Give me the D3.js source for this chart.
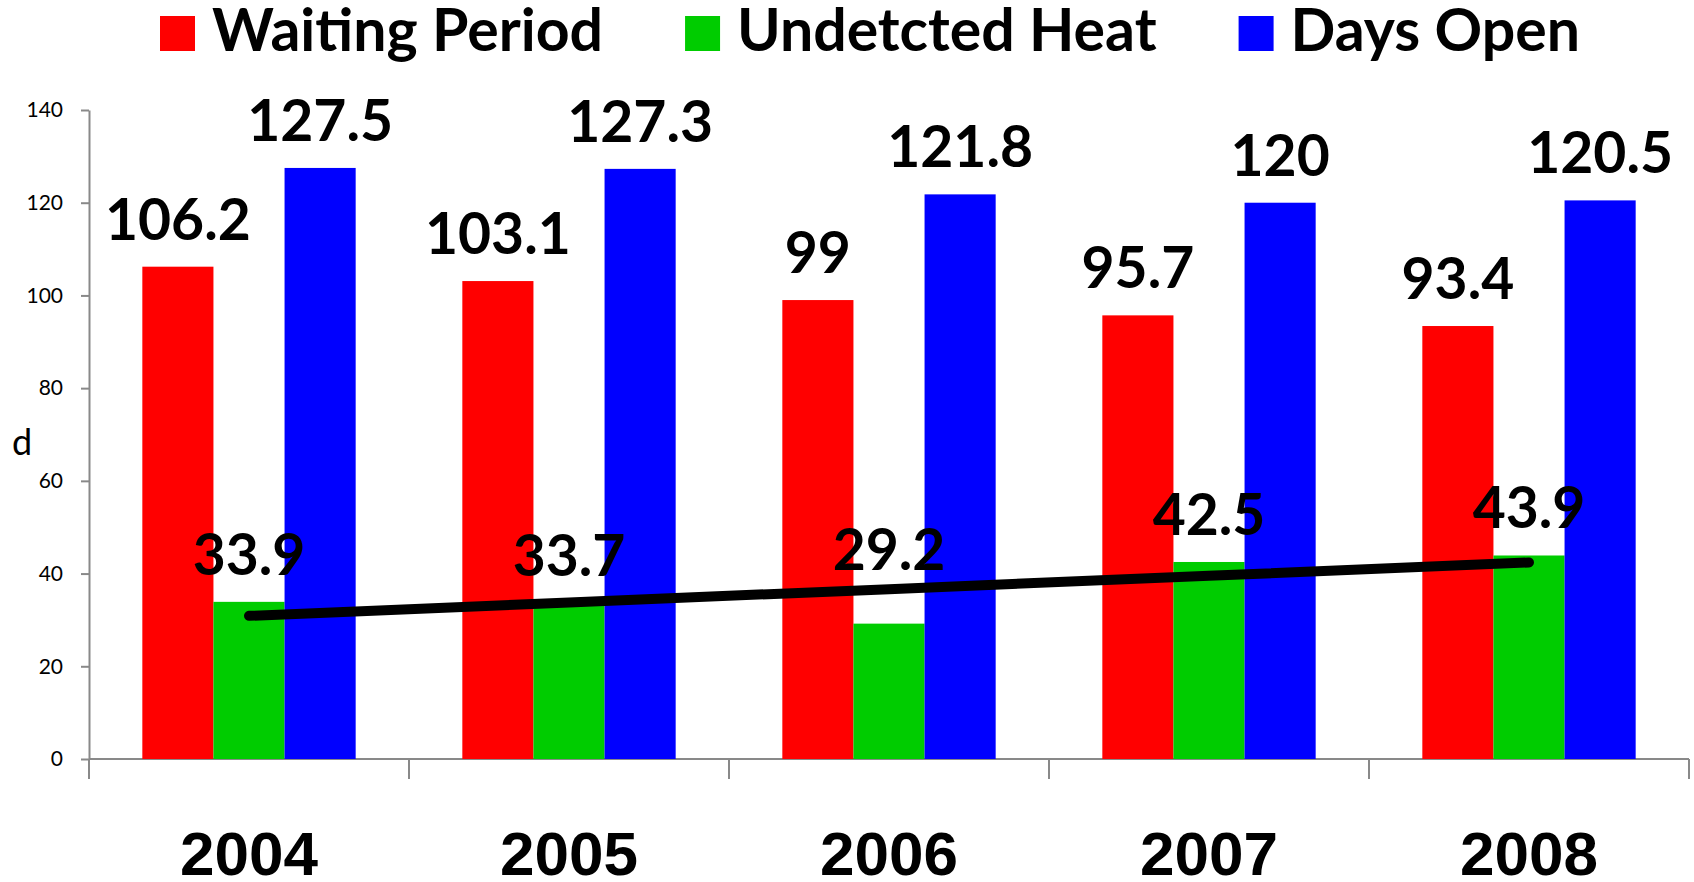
<!DOCTYPE html>
<html>
<head>
<meta charset="utf-8">
<script src="https://cdn.jsdelivr.net/npm/d3@7"></script>
<style>
  body { margin: 0; background: #fff; }
  svg { display: block; }
</style>
</head>
<body>
<div id="chart"></div>
<script>
// data
const years = ["2004", "2005", "2006", "2007", "2008"];
const seriesNames = ["Waiting Period", "Undetcted Heat", "Days Open"];
const seriesColors = ["#ff0000", "#00cc00", "#0000ff"];
const waitingPeriod = [106.2, 103.1, 99, 95.7, 93.4];
const undetectedHeat = [33.9, 33.7, 29.2, 42.5, 43.9];
const daysOpen = [127.5, 127.3, 121.8, 120, 120.5];
const yTicks = [0, 20, 40, 60, 80, 100, 120, 140];

const W = 1694, H = 882;
const margin = { left: 89, right: 5, top: 110, bottom: 123 };
const calibri = "Lato, 'Open Sans', sans-serif";
// the 2006 heat label sits higher, clear of the trend line
const extraLift = { "2006-1": 27 };

const seriesValues = [waitingPeriod, undetectedHeat, daysOpen];
const rows = years.map((y, i) => ({ year: y, vals: seriesValues.map(s => s[i]) }));

const svg = d3.select("#chart").append("svg")
	.attr("width", W)
	.attr("height", H);

const x = d3.scaleBand()
	.domain(years)
	.range([margin.left, W - margin.right])
	.paddingInner(0).paddingOuter(0);

const x1 = d3.scaleBand()
	.domain(d3.range(seriesNames.length))
	.range([0, x.bandwidth()])
	.paddingInner(0).paddingOuter(0.75);

const y = d3.scaleLinear()
	.domain([0, 140])
	.range([H - margin.bottom, margin.top]);

// y axis
const yAxis = svg.append("g")
	.attr("transform", `translate(${margin.left},0)`)
	.call(d3.axisLeft(y).tickValues(yTicks).tickSize(8).tickPadding(18).tickSizeOuter(0));
yAxis.select(".domain").attr("stroke", "#898989").attr("stroke-width", 2);
yAxis.selectAll(".tick line").attr("stroke", "#898989").attr("stroke-width", 2);
yAxis.selectAll(".tick text")
	.attr("font-family", calibri)
	.attr("font-size", 21)
	.attr("fill", "#000");

// x axis line + boundary ticks
const xAxis = svg.append("g").attr("transform", `translate(0,${y(0)})`);
xAxis.append("line")
	.attr("x1", x.range()[0]).attr("x2", x.range()[1])
	.attr("stroke", "#898989").attr("stroke-width", 2);
const bounds = years.map(d => x(d)).concat([x.range()[1]]);
xAxis.selectAll(".bt").data(bounds).join("line")
	.attr("class", "bt")
	.attr("x1", d => d).attr("x2", d => d)
	.attr("y1", 0).attr("y2", 20)
	.attr("stroke", "#898989").attr("stroke-width", 2);

// year labels
svg.selectAll(".year").data(years).join("text")
	.attr("class", "year")
	.attr("x", d => x(d) + x.bandwidth() / 2)
	.attr("y", 875)
	.attr("text-anchor", "middle")
	.attr("font-family", "'Liberation Sans', Arial, sans-serif")
	.attr("font-weight", "bold")
	.attr("font-size", 62)
	.text(d => d);

// "d" axis title
svg.append("text")
	.attr("x", 22).attr("y", 455)
	.attr("text-anchor", "middle")
	.attr("font-family", calibri)
	.attr("font-size", 36)
	.text("d");

// bars
const groups = svg.selectAll(".grp").data(rows).join("g")
	.attr("class", "grp")
	.attr("transform", d => `translate(${x(d.year)},0)`);

groups.selectAll("rect").data(d => d.vals).join("rect")
	.attr("x", (v, i) => x1(i))
	.attr("width", x1.bandwidth())
	.attr("y", v => y(v))
	.attr("height", v => y(0) - y(v))
	.attr("fill", (v, i) => seriesColors[i]);

// linear trend of Undetcted Heat
const idx = d3.range(years.length);
const mx = d3.mean(idx), my = d3.mean(undetectedHeat);
const slope = d3.sum(idx, i => (i - mx) * (undetectedHeat[i] - my)) / d3.sum(idx, i => (i - mx) ** 2);
const icpt = my - slope * mx;
const trend = idx.map(i => [x(years[i]) + x1(1) + x1.bandwidth() / 2, y(icpt + slope * i)]);

svg.append("path")
	.attr("d", d3.line()(trend))
	.attr("fill", "none")
	.attr("stroke", "#000")
	.attr("stroke-width", 10)
	.attr("stroke-linecap", "round");

// value labels
groups.each(function (row) {
	d3.select(this).selectAll(".lbl").data(row.vals).join("text")
		.attr("class", "lbl")
		.attr("x", (v, i) => x1(i) + x1.bandwidth() / 2)
		.attr("y", (v, i) => y(v) - 27 - (extraLift[row.year + "-" + i] || 0))
		.attr("text-anchor", "middle")
		.attr("font-family", calibri)
		.attr("font-weight", "bold")
		.attr("font-size", 57)
		.text(v => v);
});

// legend
const legend = svg.append("g").attr("transform", "translate(160,16)");
let lx = 0;
seriesNames.forEach((name, i) => {
	legend.append("rect")
		.attr("x", lx).attr("y", 0)
		.attr("width", 35).attr("height", 35)
		.attr("fill", seriesColors[i]);
	const t = legend.append("text")
		.attr("x", lx + 52).attr("y", 35)
		.attr("font-family", calibri)
		.attr("font-weight", "bold")
		.attr("font-size", 59)
		.text(name);
	lx += 52 + t.node().getComputedTextLength() + 82;
});
</script>
</body>
</html>
